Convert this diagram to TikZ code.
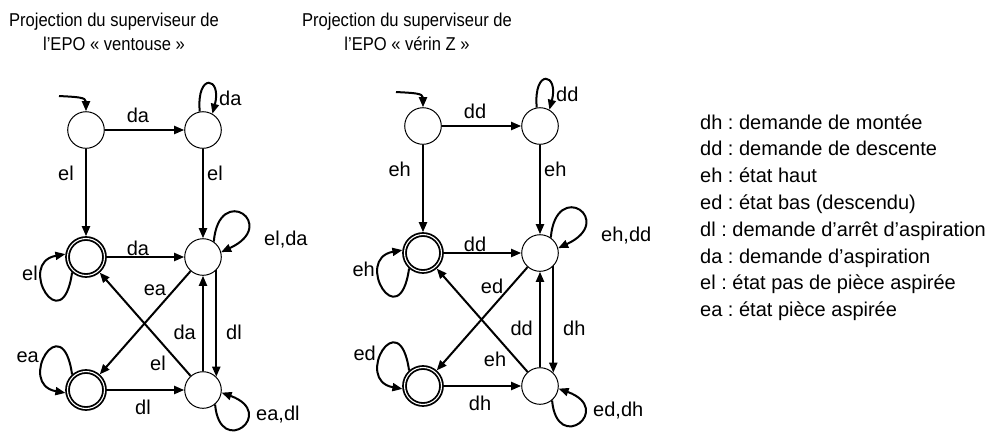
\documentclass[tikz,border=0pt]{standalone}
\usepackage{fontspec}
\setmainfont{Liberation Sans}
\newfontfamily\titlefont[FakeStretch=0.89]{Liberation Sans}
\usetikzlibrary{arrows.meta}
\frenchspacing
\tikzset{
  state/.style={circle, draw, line width=1pt, minimum size=36.6pt, inner sep=0pt, outer sep=0.5pt},
  final/.style={circle, draw, double, double distance=1.1pt, line width=1.8pt, minimum size=37pt, inner sep=0pt, outer sep=2.3pt},
  edge/.style={line width=2pt, -{Triangle[length=10pt,width=8pt]}},
  lbl/.style={font=\fontsize{20}{24}\selectfont, inner sep=0pt},
  ttl/.style={font=\titlefont\fontsize{18.6}{24}\selectfont, inner sep=0pt, anchor=base},
  leg/.style={font=\fontsize{20}{24}\selectfont, inner sep=0pt, anchor=base west},
}
\newcommand\fsmdraw[4]{%
  \node[state] (TL) at (86,-130) {};
  \node[state] (TR) at (203,-130) {};
  \node[final] (ML) at (86,-257) {};
  \node[state] (MR) at (203,-257) {};
  \node[final] (BL) at (86,-390) {};
  \node[state] (BR) at (203,-390) {};
  \coordinate (IN) at (59,-96);
  \draw[edge] (IN) .. controls +(18,-1) and +(0,14) .. (TL.90);
  \draw[edge] (TL) -- (TR);
  \draw[edge] (TL) -- (ML);
  \draw[edge] (TR) -- (MR);
  \draw[edge] (ML) -- (MR);
  \draw[edge] (BL) -- (BR);
  \draw[edge] (MR) -- (BL);
  \draw[edge] (BR) -- (ML);
  \draw[edge] (BR) -- (MR);
  \draw[edge] (MR.-45) -- (BR.45);
  \draw[edge] (TR.100) .. controls +(95:40) and +(75:38) .. (TR.60);
  \draw[edge] (MR.55) .. controls +(85:60) and +(25:65) .. (MR.15);
  \draw[edge] (BR.-50) .. controls +(-85:55) and +(-20:60) .. (BR.-8);
  \draw[edge] (ML.228) .. controls +(262:70) and +(190:50) .. (ML.172);
  \draw[edge] (BL.132) .. controls +(98:70) and +(170:50) .. (BL.188);
  \node[lbl] (l1) at (138,-115) {#1};
  \node[lbl,anchor=west] (l2) at (219,-98) {#1};
  \node[lbl,anchor=east] (l3) at (74,-173) {#2};
  \node[lbl,anchor=west] (l4) at (207,-173) {#2};
  \node[lbl] (l5) at (138,-248) {#1};
  \node[lbl,anchor=east] (l6) at (38,-273) {#2};
  \node[lbl,anchor=west] (l7) at (264,-240) {#2,#1};
  \node[lbl] (l8) at (155,-290) {#3};
  \node[lbl] (l9) at (158,-363) {#2};
  \node[lbl,anchor=east] (l10) at (196,-332) {#1};
  \node[lbl,anchor=west] (l11) at (226,-332) {#4};
  \node[lbl] (l12) at (143,-407) {#4};
  \node[lbl,anchor=east] (l13) at (39,-357) {#3};
  \node[lbl,anchor=west] (l14) at (256,-415) {#3,#4};
}
\begin{document}
\begin{tikzpicture}[x=1pt,y=1pt]
  \useasboundingbox (0,0) rectangle (996,-432);
  \node[ttl] (t1a) at (114,-26) {Projection du superviseur de};
  \node[ttl] (t1b) at (114,-50) {l’EPO « ventouse »};
  \node[ttl] (t2a) at (407,-26) {Projection du superviseur de};
  \node[ttl] (t2b) at (407,-50) {l’EPO « vérin Z »};
  \begin{scope}[name prefix=L-]
    \fsmdraw{da}{el}{ea}{dl}
  \end{scope}
  \begin{scope}[name prefix=R-, shift={(337,4)}]
    \fsmdraw{dd}{eh}{ed}{dh}
  \end{scope}
  \node[leg] (g1) at (700,-129) {dh : demande de montée};
  \node[leg] (g2) at (700,-155.8) {dd : demande de descente};
  \node[leg] (g3) at (700,-182.6) {eh : état haut};
  \node[leg] (g4) at (700,-209.4) {ed : état bas (descendu)};
  \node[leg] (g5) at (700,-236.2) {dl : demande d’arrêt d’aspiration};
  \node[leg] (g6) at (700,-263) {da : demande d’aspiration};
  \node[leg] (g7) at (700,-289.8) {el : état pas de pièce aspirée};
  \node[leg] (g8) at (700,-316.6) {ea : état pièce aspirée};
\end{tikzpicture}
\end{document}
